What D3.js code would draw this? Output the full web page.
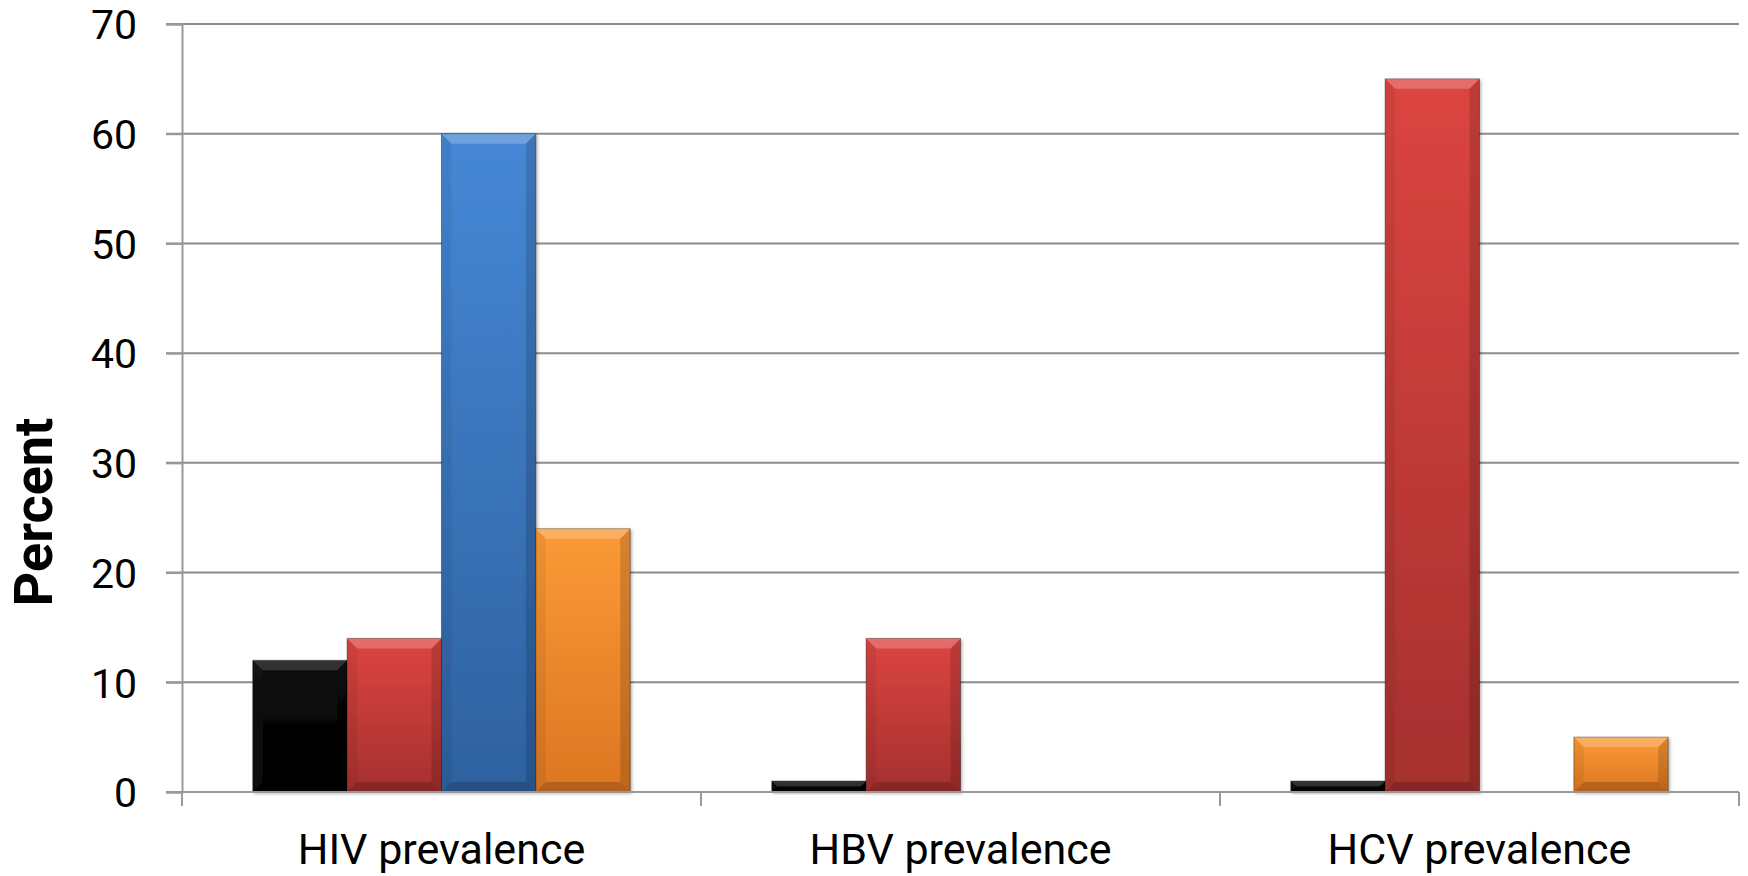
<!DOCTYPE html>
<html>
<head>
<meta charset="utf-8">
<script src="https://cdn.jsdelivr.net/npm/d3@7"></script>
<style>
  html, body { margin: 0; padding: 0; background: #fff; }
  svg { display: block; }
  text { font-family: Roboto, "Open Sans", sans-serif; fill: #000; }
</style>
</head>
<body>
<svg id="chart" width="1748" height="876"></svg>
<script>
const categories = ["HIV prevalence", "HBV prevalence", "HCV prevalence"];
const seriesNames = ["S1", "S2", "S3", "S4"];
const series1 = [12, 1, 1];
const series2 = [14, 14, 65];
const series3 = [60, 0, 0];
const series4 = [24, 0, 5];
const yTicks = [0, 10, 20, 30, 40, 50, 60, 70];
const yTitle = "Percent";

const seriesColors = [
  { top: "#0c0c0c", bottom: "#000000" },
  { top: "#dc4541", bottom: "#a5302e" },
  { top: "#4688d6", bottom: "#2e619f" },
  { top: "#fb9a36", bottom: "#dc7622" }
];

const svg = d3.select("#chart");
const plotL = 182, plotR = 1739, plotT = 24, plotB = 792;

const x0 = d3.scaleBand().domain(categories).range([plotL, plotR])
  .paddingInner(1.5 / 5.5).paddingOuter(0.75 / 5.5);
const x1 = d3.scaleBand().domain(seriesNames).range([0, x0.bandwidth()]).padding(0);
const y = d3.scaleLinear().domain([0, 70]).range([plotB, plotT]);

const defs = svg.append("defs");
seriesColors.forEach((c, i) => {
  const g = defs.append("linearGradient").attr("id", "g" + i)
    .attr("x1", 0).attr("y1", 0).attr("x2", 0).attr("y2", 1);
  g.append("stop").attr("offset", "0%").attr("stop-color", c.top);
  g.append("stop").attr("offset", "100%").attr("stop-color", c.bottom);
});
const f = defs.append("filter").attr("id", "shadow").attr("x", "-10%").attr("y", "-10%").attr("width", "130%").attr("height", "130%");
f.append("feDropShadow").attr("dx", 1.5).attr("dy", 1.5).attr("stdDeviation", 1.5).attr("flood-color", "#000").attr("flood-opacity", 0.3);

// gridlines
svg.append("g").selectAll("line").data(yTicks.filter(t => t > 0)).join("line")
  .attr("x1", plotL - 16).attr("x2", plotR)
  .attr("y1", d => y(d)).attr("y2", d => y(d))
  .attr("stroke", "#8c8c8c").attr("stroke-width", 2);

// y axis
const yAxis = d3.axisLeft(y).tickValues(yTicks).tickSize(16).tickPadding(30);
const yg = svg.append("g").attr("transform", `translate(${plotL},0)`).call(yAxis);
yg.select(".domain").attr("stroke", "#999").attr("stroke-width", 2);
yg.selectAll(".tick line").attr("stroke", "#999").attr("stroke-width", 2);
yg.selectAll(".tick text").style("font-size", "41px").attr("dy", "0.36em").attr("x", -45);

// bars
const data = [series1, series2, series3, series4];
const groups = svg.append("g").selectAll("g").data(categories).join("g")
  .attr("transform", d => `translate(${x0(d)},0)`);

groups.each(function(cat, ci) {
  const g = d3.select(this);
  seriesNames.forEach((s, si) => {
    const v = data[si][ci];
    if (!v) return;
    const bx = x1(s), bw = x1.bandwidth();
    const by = y(v), bh = y(0) - y(v);
    const b = Math.min(10, bh / 2, bw / 2);
    const bg = g.append("g").attr("filter", "url(#shadow)");
    bg.append("rect").attr("x", bx).attr("y", by).attr("width", bw).attr("height", bh)
      .attr("fill", `url(#g${si})`).attr("stroke", "rgba(0,0,0,0.35)").attr("stroke-width", 1);
    // top bevel (light)
    bg.append("polygon").attr("points", [[bx, by], [bx + bw, by], [bx + bw - b, by + b], [bx + b, by + b]].join(" "))
      .attr("fill", "#fff").attr("opacity", si === 0 ? 0.16 : 0.22);
    // left bevel
    bg.append("polygon").attr("points", [[bx, by], [bx + b, by + b], [bx + b, by + bh - b], [bx, by + bh]].join(" "))
      .attr("fill", si === 0 ? "#fff" : "#000").attr("opacity", si === 0 ? 0.03 : 0.06);
    // right bevel
    bg.append("polygon").attr("points", [[bx + bw, by], [bx + bw - b, by + b], [bx + bw - b, by + bh - b], [bx + bw, by + bh]].join(" "))
      .attr("fill", "#000").attr("opacity", 0.14);
    // bottom bevel
    bg.append("polygon").attr("points", [[bx, by + bh], [bx + b, by + bh - b], [bx + bw - b, by + bh - b], [bx + bw, by + bh]].join(" "))
      .attr("fill", "#000").attr("opacity", 0.18);
  });
});

// x axis
const xg = svg.append("g");
xg.append("line").attr("x1", plotL - 16).attr("x2", plotR).attr("y1", y(0)).attr("y2", y(0))
  .attr("stroke", "#999").attr("stroke-width", 2);
const bounds = [plotL].concat(categories.map(c => x0(c) - x0.step() * x0.paddingOuter() + x0.step()));
xg.selectAll("line.tk").data(bounds).join("line").attr("class", "tk")
  .attr("x1", d => d).attr("x2", d => d).attr("y1", y(0)).attr("y2", y(0) + 14)
  .attr("stroke", "#999").attr("stroke-width", 2);
xg.selectAll("text").data(categories).join("text")
  .attr("x", d => x0(d) + x0.bandwidth() / 2).attr("y", 864)
  .attr("text-anchor", "middle").style("font-size", "43px").text(d => d);

// y title
svg.append("text").attr("transform", "translate(52,512) rotate(-90)")
  .attr("text-anchor", "middle").style("font-size", "54px").style("font-weight", "bold").text(yTitle);
</script>
</body>
</html>
